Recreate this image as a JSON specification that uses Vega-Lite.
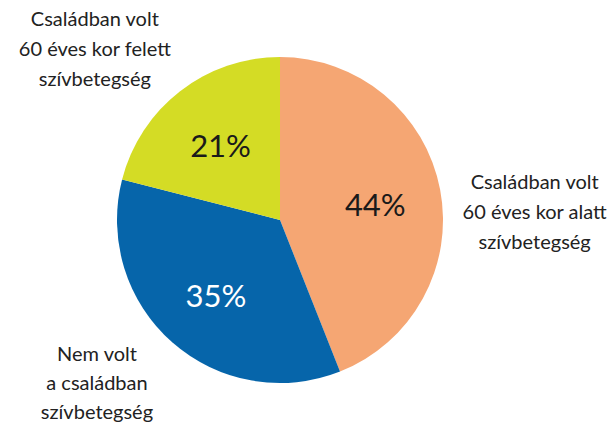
{
  "$schema": "https://vega.github.io/schema/vega-lite/v6.json",
  "width": 560,
  "height": 416,
  "autosize": "none",
  "padding": {"left": 0, "top": 12, "right": 54, "bottom": 0},
  "background": "white",
  "config": {"view": {"stroke": null}, "font": "Lato"},
  "data": {
    "values": [
      {"rank": 1, "category": "Családban volt 60 éves kor alatt szívbetegség", "value": 44, "pct": "44%", "label": ["Családban volt", "60 éves kor alatt", "szívbetegség"]},
      {"rank": 2, "category": "Nem volt a családban szívbetegség", "value": 35, "pct": "35%", "label": ["Nem volt", "a családban", "szívbetegség"]},
      {"rank": 3, "category": "Családban volt 60 éves kor felett szívbetegség", "value": 21, "pct": "21%", "label": ["Családban volt", "60 éves kor felett", "szívbetegség"]}
    ]
  },
  "encoding": {
    "theta": {"field": "value", "type": "quantitative", "stack": true},
    "order": {"field": "rank", "type": "ordinal"}
  },
  "layer": [
    {
      "mark": {"type": "arc", "outerRadius": 163},
      "encoding": {
        "color": {
          "field": "category",
          "type": "nominal",
          "scale": {
            "domain": ["Családban volt 60 éves kor alatt szívbetegség", "Nem volt a családban szívbetegség", "Családban volt 60 éves kor felett szívbetegség"],
            "range": ["#F5A673", "#0665AA", "#D4DC25"]
          },
          "legend": null
        }
      }
    },
    {
      "mark": {"type": "text", "radius": 97, "fontSize": 31, "baseline": "middle", "align": "center", "dy": 5},
      "encoding": {
        "text": {"field": "pct", "type": "nominal"},
        "color": {
          "condition": {"test": "datum.rank === 2", "value": "#ffffff"},
          "value": "#1a1a1a"
        }
      }
    },
    {
      "mark": {"type": "text", "radius": 245, "fontSize": 20, "lineHeight": 30, "baseline": "middle", "align": "center", "dx": 14, "dy": 9, "color": "#222222"},
      "encoding": {"text": {"condition": {"test": "datum.rank === 1", "field": "label"}, "value": ""}}
    },
    {
      "mark": {"type": "text", "radius": 245, "fontSize": 20, "lineHeight": 29, "baseline": "middle", "align": "center", "dx": -21, "dy": -49, "color": "#222222"},
      "encoding": {"text": {"condition": {"test": "datum.rank === 2", "field": "label"}, "value": ""}}
    },
    {
      "mark": {"type": "text", "radius": 245, "fontSize": 20, "lineHeight": 30, "baseline": "middle", "align": "center", "dx": -35, "dy": -6, "color": "#222222"},
      "encoding": {"text": {"condition": {"test": "datum.rank === 3", "field": "label"}, "value": ""}}
    }
  ]
}
